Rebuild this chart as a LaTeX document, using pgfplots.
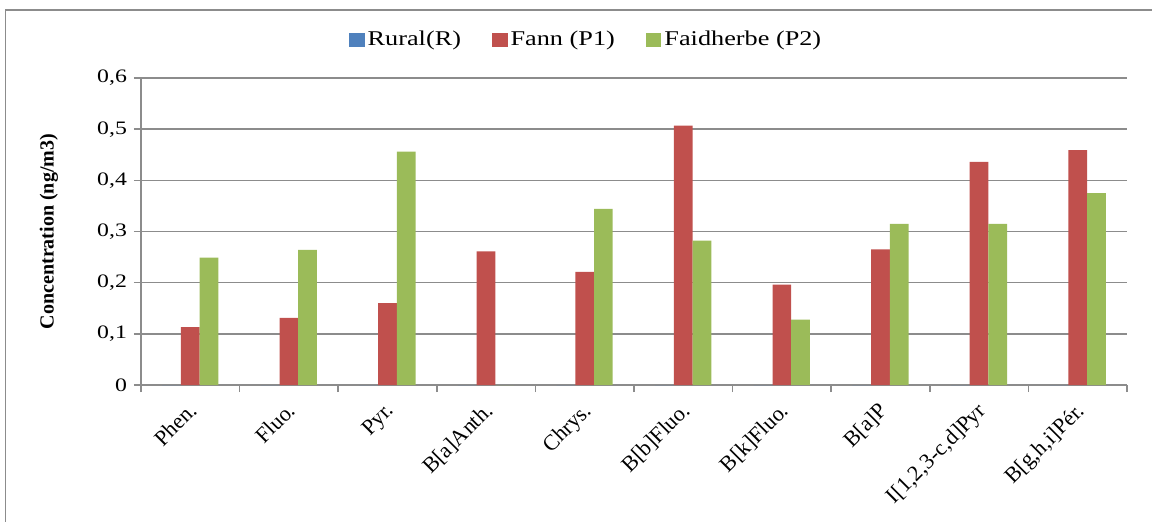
\documentclass[border=0pt]{standalone}
\usepackage{fontspec}
\setmainfont{Liberation Serif}[FakeStretch=1.25]
\newfontfamily\plainserif{Liberation Serif}
\usepackage{pgfplots}
\pgfplotsset{compat=1.18}

\definecolor{rural}{HTML}{4F81BD}
\definecolor{fann}{HTML}{C0504D}
\definecolor{faid}{HTML}{9BBB59}
\definecolor{axgray}{HTML}{8C8C8C}

\begin{document}
\begin{tikzpicture}[x=0.5pt,y=0.5pt]
% picture in reference pixels, origin at the lower left of the plot area
\useasboundingbox (-141,-136) rectangle (1011,385);
\draw[axgray, line width=0.8pt] (-135.3,-200) -- (-135.3,375) -- (1100,375);
\begin{axis}[
    at={(0pt,0pt)}, anchor=south west,
    scale only axis,
    width=493pt,
    height=153.5pt,
    ybar=0pt,
    bar width=9.35pt,
    xmin=-0.5, xmax=9.5,
    ymin=0, ymax=0.6,
    axis x line*=bottom,
    axis y line*=left,
    axis line style={draw=axgray, line width=0.8pt},
    tick align=outside,
    major tick length=3.5pt,
    tick style={draw=axgray, line width=0.8pt},
    ytick={0,0.1,0.2,0.3,0.4,0.5,0.6},
    ymajorgrids,
    grid style={draw=axgray, line width=0.8pt},
    xtick={-0.5,0.5,...,9.5},
    x tick label as interval,
    xticklabels={Phen., Fluo., Pyr., B[a]Anth., Chrys., B[b]Fluo., B[k]Fluo., B[a]P, {I[1,2,3-c,d]Pyr}, {B[g,h,i]Pér.}},
    xticklabel style={xshift=-1.5pt, yshift=-3pt, font=\plainserif\fontsize{11}{13}\selectfont, rotate=45, anchor=north east, inner sep=1pt},
    yticklabel style={font=\fontsize{9.5}{11}\selectfont, /pgf/number format/fixed, /pgf/number format/precision=1, /pgf/number format/use comma, /pgf/number format/assume math mode=true},
    ylabel={\plainserif\bfseries Concentration (ng/m3)},
    ylabel style={font=\fontsize{10}{12}\selectfont, at={(axis description cs:-0.0933,0.5)}, anchor=center},
    legend columns=3,
    legend style={at={(0.452,1.124)}, anchor=center, draw=none,
        font=\fontsize{10.5}{12}\selectfont,
        /tikz/every even column/.append style={column sep=14pt},
        nodes={inner sep=1.5pt}},
    legend image code/.code={\fill[#1] (0pt,-3.4pt) rectangle (7.8pt,3.4pt);},
]
\addplot[fill=rural, draw=none] coordinates {
(0,0) (1,0) (2,0) (3,0) (4,0) (5,0) (6,0) (7,0) (8,0) (9,0)
};
\addplot[fill=fann, draw=none] coordinates {
(0,0.113) (1,0.131) (2,0.160) (3,0.261) (4,0.221)
(5,0.507) (6,0.196) (7,0.265) (8,0.436) (9,0.459)
};
\addplot[fill=faid, draw=none] coordinates {
(0,0.249) (1,0.264) (2,0.456) (3,0) (4,0.344)
(5,0.282) (6,0.128) (7,0.315) (8,0.315) (9,0.375)
};
\legend{Rural(R), Fann (P1), Faidherbe (P2)}
\end{axis}
\end{tikzpicture}
\end{document}
